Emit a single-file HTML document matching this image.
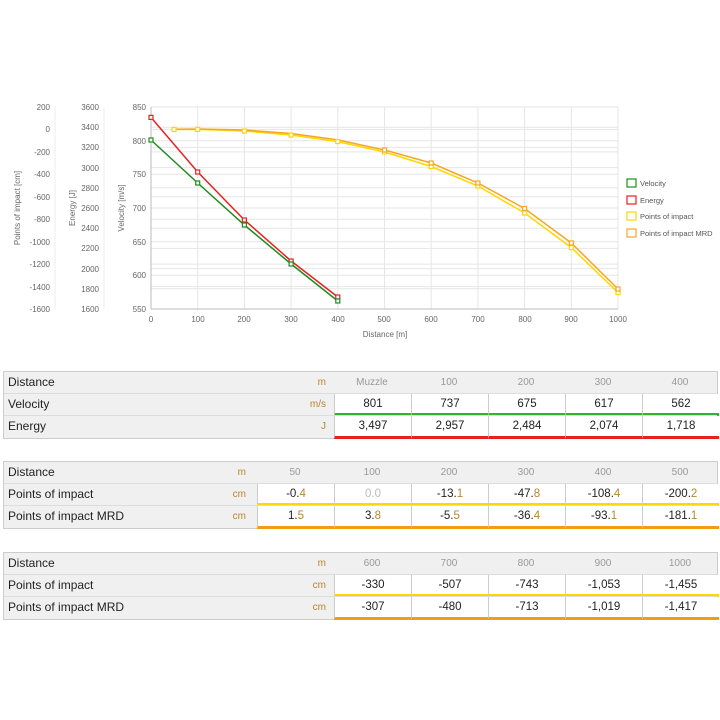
<!DOCTYPE html>
<html><head><meta charset="utf-8"><style>
body{margin:0;width:720px;height:720px;background:#fff;position:relative;overflow:hidden;font-family:"Liberation Sans",sans-serif}
.t{position:absolute;left:3px;width:713px;border:1px solid #ccc;background:#f0f0f0}
.r{position:absolute;left:0;width:713px;height:21px;border-top:1px solid #ddd}
.r:first-child{border-top:none}
.l{position:absolute;left:4px;top:3px;font-size:12px;color:#222}
.u{position:absolute;top:5px;font-size:10px;color:#b8862b;text-align:right;width:40px}
.c{position:absolute;top:0;height:21px;width:76px;text-align:center;font-size:11.5px;line-height:21px;color:#222}
.h{color:#999;font-size:10px}
.v{background:#fff;border-left:1px solid #ccc}
.g{color:#b8862b}
</style></head><body>
<svg width="720" height="360" style="position:absolute;left:0;top:0" font-family="Liberation Sans,sans-serif">
<g stroke="#e6e6e6" stroke-width="1">
<line x1="151" x2="618" y1="107" y2="107"/><line x1="151" x2="618" y1="140.7" y2="140.7"/><line x1="151" x2="618" y1="174.3" y2="174.3"/><line x1="151" x2="618" y1="208" y2="208"/><line x1="151" x2="618" y1="241.7" y2="241.7"/><line x1="151" x2="618" y1="275.3" y2="275.3"/>
<line x1="151" x2="618" y1="127.2" y2="127.2"/><line x1="151" x2="618" y1="147.4" y2="147.4"/><line x1="151" x2="618" y1="167.6" y2="167.6"/><line x1="151" x2="618" y1="187.8" y2="187.8"/><line x1="151" x2="618" y1="228.2" y2="228.2"/><line x1="151" x2="618" y1="248.4" y2="248.4"/><line x1="151" x2="618" y1="268.6" y2="268.6"/><line x1="151" x2="618" y1="288.8" y2="288.8"/>
<line x1="151" x2="618" y1="129.4" y2="129.4"/><line x1="151" x2="618" y1="151.9" y2="151.9"/><line x1="151" x2="618" y1="196.8" y2="196.8"/><line x1="151" x2="618" y1="219.2" y2="219.2"/><line x1="151" x2="618" y1="264.1" y2="264.1"/><line x1="151" x2="618" y1="286.6" y2="286.6"/>
<line x1="197.7" x2="197.7" y1="107" y2="309"/><line x1="244.4" x2="244.4" y1="107" y2="309"/><line x1="291.1" x2="291.1" y1="107" y2="309"/><line x1="337.8" x2="337.8" y1="107" y2="309"/><line x1="384.5" x2="384.5" y1="107" y2="309"/><line x1="431.2" x2="431.2" y1="107" y2="309"/><line x1="477.9" x2="477.9" y1="107" y2="309"/><line x1="524.6" x2="524.6" y1="107" y2="309"/><line x1="571.3" x2="571.3" y1="107" y2="309"/><line x1="618" x2="618" y1="107" y2="309"/>
</g>
<line x1="151" x2="151" y1="107" y2="309" stroke="#bbb"/><line x1="151" x2="618" y1="309" y2="309" stroke="#bbb"/>
<line x1="104" x2="104" y1="107" y2="309" stroke="#eee"/><line x1="55" x2="55" y1="107" y2="309" stroke="#eee"/>
<g font-size="8" fill="#666" text-anchor="end">
<text x="146" y="110">850</text><text x="146" y="144">800</text><text x="146" y="177">750</text><text x="146" y="211">700</text><text x="146" y="245">650</text><text x="146" y="278">600</text><text x="146" y="312">550</text>
<text x="99" y="110">3600</text><text x="99" y="130">3400</text><text x="99" y="150">3200</text><text x="99" y="171">3000</text><text x="99" y="191">2800</text><text x="99" y="211">2600</text><text x="99" y="231">2400</text><text x="99" y="251">2200</text><text x="99" y="272">2000</text><text x="99" y="292">1800</text><text x="99" y="312">1600</text>
<text x="50" y="110">200</text><text x="50" y="132">0</text><text x="50" y="155">-200</text><text x="50" y="177">-400</text><text x="50" y="200">-600</text><text x="50" y="222">-800</text><text x="50" y="245">-1000</text><text x="50" y="267">-1200</text><text x="50" y="290">-1400</text><text x="50" y="312">-1600</text>
</g>
<g font-size="8" fill="#666" text-anchor="middle">
<text x="151" y="322">0</text><text x="198" y="322">100</text><text x="244" y="322">200</text><text x="291" y="322">300</text><text x="338" y="322">400</text><text x="384" y="322">500</text><text x="431" y="322">600</text><text x="478" y="322">700</text><text x="525" y="322">800</text><text x="571" y="322">900</text><text x="618" y="322">1000</text>
<text x="385" y="337">Distance [m]</text>
<text transform="translate(124,208) rotate(-90)">Velocity [m/s]</text>
<text transform="translate(75,208) rotate(-90)">Energy [J]</text>
<text transform="translate(20,208) rotate(-90)">Points of impact [cm]</text>
</g>
<g fill="none" stroke-width="1.5">
<polyline stroke="#ffd700" points="174.4,129.5 197.7,129.4 244.4,131 291.1,135 337.8,141.6 384.5,152 431.2,166.5 477.9,186 524.6,213 571.3,247.6 618,292.6"/>
<polyline stroke="#f5a623" points="174.4,129.3 197.7,129 244.4,130 291.1,133.5 337.8,139.9 384.5,150 431.2,163 477.9,183 524.6,208.5 571.3,243 618,289"/>
<polyline stroke="#e82020" points="151,117.4 197.7,172 244.4,220 291.1,261 337.8,297"/>
<polyline stroke="#1f8a1f" points="151,140 197.7,183 244.4,225 291.1,264 337.8,301"/>
</g>
<g fill="#fff" stroke-width="1.2">
<g stroke="#ffd700"><rect x="172" y="127.5" width="4" height="4"/><rect x="195.7" y="127.4" width="4" height="4"/><rect x="242.4" y="129" width="4" height="4"/><rect x="289.1" y="133" width="4" height="4"/><rect x="335.8" y="139.6" width="4" height="4"/><rect x="382.5" y="150" width="4" height="4"/><rect x="429.2" y="164.5" width="4" height="4"/><rect x="475.9" y="184" width="4" height="4"/><rect x="522.6" y="211" width="4" height="4"/><rect x="569.3" y="245.6" width="4" height="4"/><rect x="616" y="290.6" width="4" height="4"/></g>
<g stroke="#f5a623"><rect x="382.5" y="148" width="4" height="4"/><rect x="429.2" y="161" width="4" height="4"/><rect x="475.9" y="181" width="4" height="4"/><rect x="522.6" y="206.5" width="4" height="4"/><rect x="569.3" y="241" width="4" height="4"/><rect x="616" y="287" width="4" height="4"/></g>
<g stroke="#e82020"><rect x="149" y="115.4" width="4" height="4"/><rect x="195.7" y="170" width="4" height="4"/><rect x="242.4" y="218" width="4" height="4"/><rect x="289.1" y="259" width="4" height="4"/><rect x="335.8" y="295" width="4" height="4"/></g>
<g stroke="#1f8a1f"><rect x="149" y="138" width="4" height="4"/><rect x="195.7" y="181" width="4" height="4"/><rect x="242.4" y="223" width="4" height="4"/><rect x="289.1" y="262" width="4" height="4"/><rect x="335.8" y="299" width="4" height="4"/></g>
</g>
<g stroke-width="1.2" fill="#fff">
<rect x="627" y="179" width="9" height="8" stroke="#1f8a1f"/><rect x="627" y="196" width="9" height="8" stroke="#e82020"/><rect x="627" y="212" width="9" height="8" stroke="#ffd700"/><rect x="627" y="229" width="9" height="8" stroke="#f5a623"/>
</g>
<g font-size="7.5" fill="#555"><text x="640" y="186">Velocity</text><text x="640" y="203">Energy</text><text x="640" y="219">Points of impact</text><text x="640" y="236">Points of impact MRD</text></g>
</svg>

<div class="t" style="top:371px;height:66px">
<div class="r" style="top:0"><span class="l">Distance</span><span class="u" style="left:282px">m</span>
<div class="c h" style="left:330px">Muzzle</div><div class="c h" style="left:407px">100</div><div class="c h" style="left:484px">200</div><div class="c h" style="left:561px">300</div><div class="c h" style="left:638px">400</div></div>
<div class="r" style="top:21px"><span class="l">Velocity</span><span class="u" style="left:282px">m/s</span>
<div class="c v" style="left:330px;border-bottom:3px solid #2db52d;height:19px">801</div><div class="c v" style="left:407px;border-bottom:3px solid #2db52d;height:19px">737</div><div class="c v" style="left:484px;border-bottom:3px solid #2db52d;height:19px">675</div><div class="c v" style="left:561px;border-bottom:3px solid #2db52d;height:19px">617</div><div class="c v" style="left:638px;border-bottom:3px solid #2db52d;height:19px">562</div></div>
<div class="r" style="top:43px"><span class="l">Energy</span><span class="u" style="left:282px">J</span>
<div class="c v" style="left:330px;border-bottom:3px solid #e82020;height:20px">3,497</div><div class="c v" style="left:407px;border-bottom:3px solid #e82020;height:20px">2,957</div><div class="c v" style="left:484px;border-bottom:3px solid #e82020;height:20px">2,484</div><div class="c v" style="left:561px;border-bottom:3px solid #e82020;height:20px">2,074</div><div class="c v" style="left:638px;border-bottom:3px solid #e82020;height:20px">1,718</div></div>
</div>

<div class="t" style="top:461px;height:66px">
<div class="r" style="top:0"><span class="l">Distance</span><span class="u" style="left:202px">m</span>
<div class="c h" style="left:253px">50</div><div class="c h" style="left:330px">100</div><div class="c h" style="left:407px">200</div><div class="c h" style="left:484px">300</div><div class="c h" style="left:561px">400</div><div class="c h" style="left:638px">500</div></div>
<div class="r" style="top:21px"><span class="l">Points of impact</span><span class="u" style="left:202px">cm</span>
<div class="c v" style="left:253px;border-bottom:3px solid #ffd700;height:19px">-0.<span class="g">4</span></div><div class="c v" style="left:330px;border-bottom:3px solid #ffd700;height:19px;color:#bbb">0.0</div><div class="c v" style="left:407px;border-bottom:3px solid #ffd700;height:19px">-13.<span class="g">1</span></div><div class="c v" style="left:484px;border-bottom:3px solid #ffd700;height:19px">-47.<span class="g">8</span></div><div class="c v" style="left:561px;border-bottom:3px solid #ffd700;height:19px">-108.<span class="g">4</span></div><div class="c v" style="left:638px;border-bottom:3px solid #ffd700;height:19px">-200.<span class="g">2</span></div></div>
<div class="r" style="top:43px"><span class="l">Points of impact MRD</span><span class="u" style="left:202px">cm</span>
<div class="c v" style="left:253px;border-bottom:3px solid #f39c12;height:20px">1.<span class="g">5</span></div><div class="c v" style="left:330px;border-bottom:3px solid #f39c12;height:20px">3.<span class="g">8</span></div><div class="c v" style="left:407px;border-bottom:3px solid #f39c12;height:20px">-5.<span class="g">5</span></div><div class="c v" style="left:484px;border-bottom:3px solid #f39c12;height:20px">-36.<span class="g">4</span></div><div class="c v" style="left:561px;border-bottom:3px solid #f39c12;height:20px">-93.<span class="g">1</span></div><div class="c v" style="left:638px;border-bottom:3px solid #f39c12;height:20px">-181.<span class="g">1</span></div></div>
</div>

<div class="t" style="top:552px;height:66px">
<div class="r" style="top:0"><span class="l">Distance</span><span class="u" style="left:282px">m</span>
<div class="c h" style="left:330px">600</div><div class="c h" style="left:407px">700</div><div class="c h" style="left:484px">800</div><div class="c h" style="left:561px">900</div><div class="c h" style="left:638px">1000</div></div>
<div class="r" style="top:21px"><span class="l">Points of impact</span><span class="u" style="left:282px">cm</span>
<div class="c v" style="left:330px;border-bottom:3px solid #ffd700;height:19px">-330</div><div class="c v" style="left:407px;border-bottom:3px solid #ffd700;height:19px">-507</div><div class="c v" style="left:484px;border-bottom:3px solid #ffd700;height:19px">-743</div><div class="c v" style="left:561px;border-bottom:3px solid #ffd700;height:19px">-1,053</div><div class="c v" style="left:638px;border-bottom:3px solid #ffd700;height:19px">-1,455</div></div>
<div class="r" style="top:43px"><span class="l">Points of impact MRD</span><span class="u" style="left:282px">cm</span>
<div class="c v" style="left:330px;border-bottom:3px solid #f39c12;height:20px">-307</div><div class="c v" style="left:407px;border-bottom:3px solid #f39c12;height:20px">-480</div><div class="c v" style="left:484px;border-bottom:3px solid #f39c12;height:20px">-713</div><div class="c v" style="left:561px;border-bottom:3px solid #f39c12;height:20px">-1,019</div><div class="c v" style="left:638px;border-bottom:3px solid #f39c12;height:20px">-1,417</div></div>
</div>
</body></html>
